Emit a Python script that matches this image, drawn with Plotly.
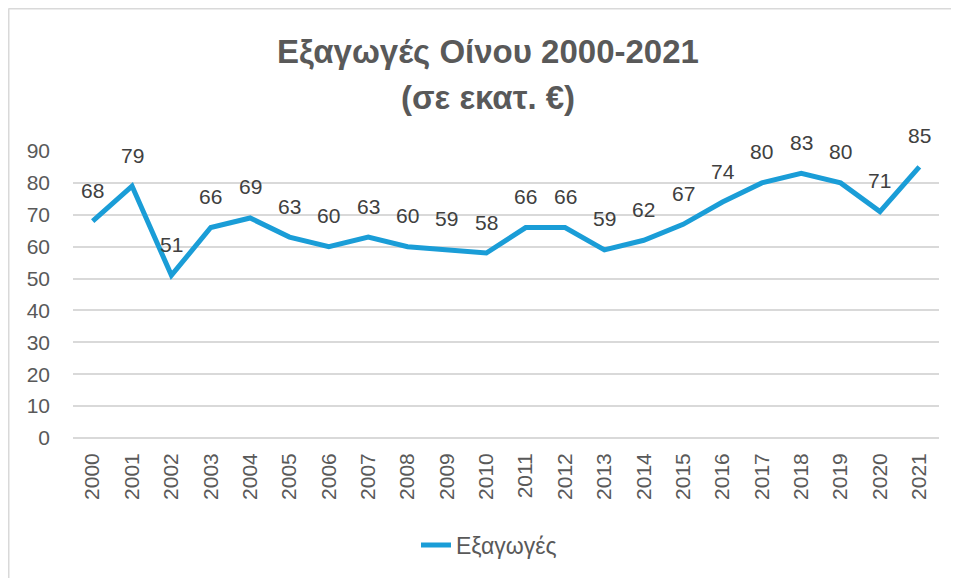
import plotly.graph_objects as go

years = [str(y) for y in range(2000, 2022)]
exports = [68, 79, 51, 66, 69, 63, 60, 63, 60, 59, 58, 66, 66, 59, 62, 67, 74, 80, 83, 80, 71, 85]
y_ticks = [0, 10, 20, 30, 40, 50, 60, 70, 80, 90]
series_name = "Εξαγωγές"
title_line1 = "Εξαγωγές Οίνου 2000-2021"
title_line2 = "(σε εκατ. €)"

LINE = "#1A9DD7"
GRAY = "#595959"
FONT = "Liberation Sans"

# page has 8px body offset; target pixel P -> figure pixel P-8
PL, PT, PW, PH = 73, 151, 866, 287  # plot area in target pixels


def px(x):
    return (x - PL) / PW


def py(y):
    return (PT + PH - y) / PH


fig = go.Figure()
fig.add_trace(go.Scatter(
    x=years, y=exports, mode="lines", name=series_name,
    line=dict(color=LINE, width=5),
    hoverinfo="skip",
))

annotations = []
for i, v in enumerate(exports):
    annotations.append(dict(
        x=i, y=v, xref="x", yref="y", text=str(v), showarrow=False,
        yshift=31, font=dict(family=FONT, size=21, color="#404040"),
    ))

annotations.append(dict(text=f"<b>{title_line1}</b>", xref="paper", yref="paper",
                        x=px(488), y=py(52), showarrow=False,
                        xanchor="center", yanchor="middle",
                        font=dict(family=FONT, size=33, color=GRAY)))
annotations.append(dict(text=f"<b>{title_line2}</b>", xref="paper", yref="paper",
                        x=px(488), y=py(98), showarrow=False,
                        xanchor="center", yanchor="middle",
                        font=dict(family=FONT, size=33, color=GRAY)))

border = "#D9D9D9"
shapes = [
    dict(type="line", xref="paper", yref="paper",
         x0=px(8.5), x1=px(980), y0=py(8.5), y1=py(8.5),
         line=dict(color=border, width=2)),
    dict(type="line", xref="paper", yref="paper",
         x0=px(8.5), x1=px(8.5), y0=py(8.5), y1=py(600),
         line=dict(color=border, width=2)),
]

fig.update_layout(
    width=959, height=578,
    margin=dict(l=PL - 8, r=959 - (PL - 8) - PW, t=PT - 8, b=578 - (PT - 8) - PH,
                autoexpand=False),
    paper_bgcolor="white", plot_bgcolor="white",
    showlegend=True,
    legend=dict(orientation="h", x=px(489), xanchor="center",
                y=py(545), yanchor="middle",
                font=dict(family=FONT, size=23, color=GRAY)),
    annotations=annotations,
    shapes=shapes,
    font=dict(family=FONT, color=GRAY),
)
fig.update_xaxes(
    type="category", range=[-0.5, len(years) - 0.5],
    tickangle=-90, tickfont=dict(family=FONT, size=21, color=GRAY),
    showgrid=False, showline=False, ticks="", ticklabelstandoff=10,
)
fig.update_yaxes(
    range=[0, 90], tickvals=y_ticks, ticktext=[str(t) for t in y_ticks],
    tickfont=dict(family=FONT, size=21, color=GRAY),
    showgrid=True, gridcolor="#D9D9D9", gridwidth=1.5,
    zeroline=True, zerolinecolor="#D9D9D9", zerolinewidth=1.5,
    showline=False, ticks="", ticklabelstandoff=22,
)

fig.write_html("out.html")
